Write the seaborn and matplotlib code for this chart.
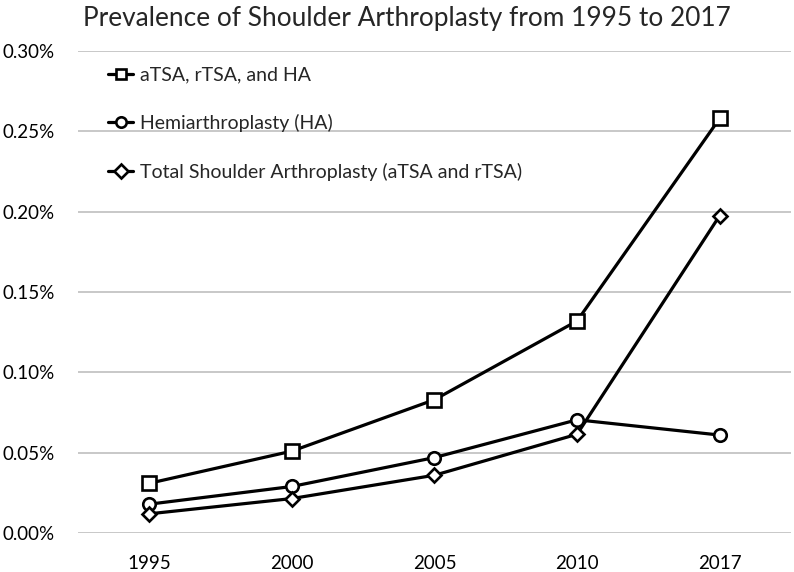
import numpy as np
import pandas as pd
import seaborn as sns
import matplotlib
matplotlib.use("Agg")
import matplotlib.pyplot as plt
from matplotlib.ticker import FuncFormatter

# values (percent of population)
years = ["1995", "2000", "2005", "2010", "2017"]
all_sa = [0.031, 0.051, 0.083, 0.132, 0.258]
hemi = [0.018, 0.029, 0.047, 0.0705, 0.061]
total_sa = [0.012, 0.0215, 0.036, 0.0615, 0.1975]
series_names = ["aTSA, rTSA, and HA", "Hemiarthroplasty (HA)",
                "Total Shoulder Arthroplasty (aTSA and rTSA)"]
y_ticks = [0.00, 0.05, 0.10, 0.15, 0.20, 0.25, 0.30]

sns.set_theme(style="white")
plt.rcParams["font.family"] = ["Lato", "DejaVu Sans"]

df = pd.DataFrame({
    "Year": years * 3,
    "Prevalence": all_sa + hemi + total_sa,
    "Series": [series_names[0]] * 5 + [series_names[1]] * 5 + [series_names[2]] * 5,
})

fig = plt.figure(figsize=(7.94, 5.72), dpi=100)
ax = fig.add_axes([0.0982, 0.068, 0.898, 0.843])

for ax_y in y_ticks:
    ax.axhline(ax_y, color="#bfbfbf", lw=1.2, zorder=0)

markers = {series_names[0]: "s", series_names[1]: "o", series_names[2]: "D"}
msize = {series_names[0]: 10, series_names[1]: 9, series_names[2]: 7.5}
for name in series_names:
    sub = df[df["Series"] == name]
    sns.lineplot(data=sub, x="Year", y="Prevalence", ax=ax, color="black",
                 lw=2.3, marker=markers[name], markersize=msize[name],
                 markerfacecolor="white", markeredgecolor="black",
                 markeredgewidth=1.9, label=name, sort=False)

ax.set_xlim(-0.5, 4.5)
ax.set_ylim(0, 0.30)
ax.set_yticks(y_ticks)
ax.yaxis.set_major_formatter(FuncFormatter(lambda v, p: "%.2f%%" % v))
ax.set_xlabel("")
ax.set_ylabel("")
ax.tick_params(axis="both", labelsize=13.5, colors="black", length=0)
ax.tick_params(axis="x", pad=16)
ax.tick_params(axis="y", pad=54)
for lab in ax.get_yticklabels():
    lab.set_horizontalalignment("left")
for s in ax.spines.values():
    s.set_visible(False)

fig.suptitle("Prevalence of Shoulder Arthroplasty from 1995 to 2017",
             fontsize=18.9, x=0.513, y=0.99, va="top")

leg = ax.legend(loc="upper left", bbox_to_anchor=(0.042, 0.967), frameon=False,
                fontsize=14, labelspacing=1.56, handlelength=1.3,
                handletextpad=0.36, borderpad=0, borderaxespad=0)
for h in leg.legend_handles:
    h.set_markersize(7.5)
    h.set_linewidth(2.3)

fig.savefig("out.png", dpi=100)
